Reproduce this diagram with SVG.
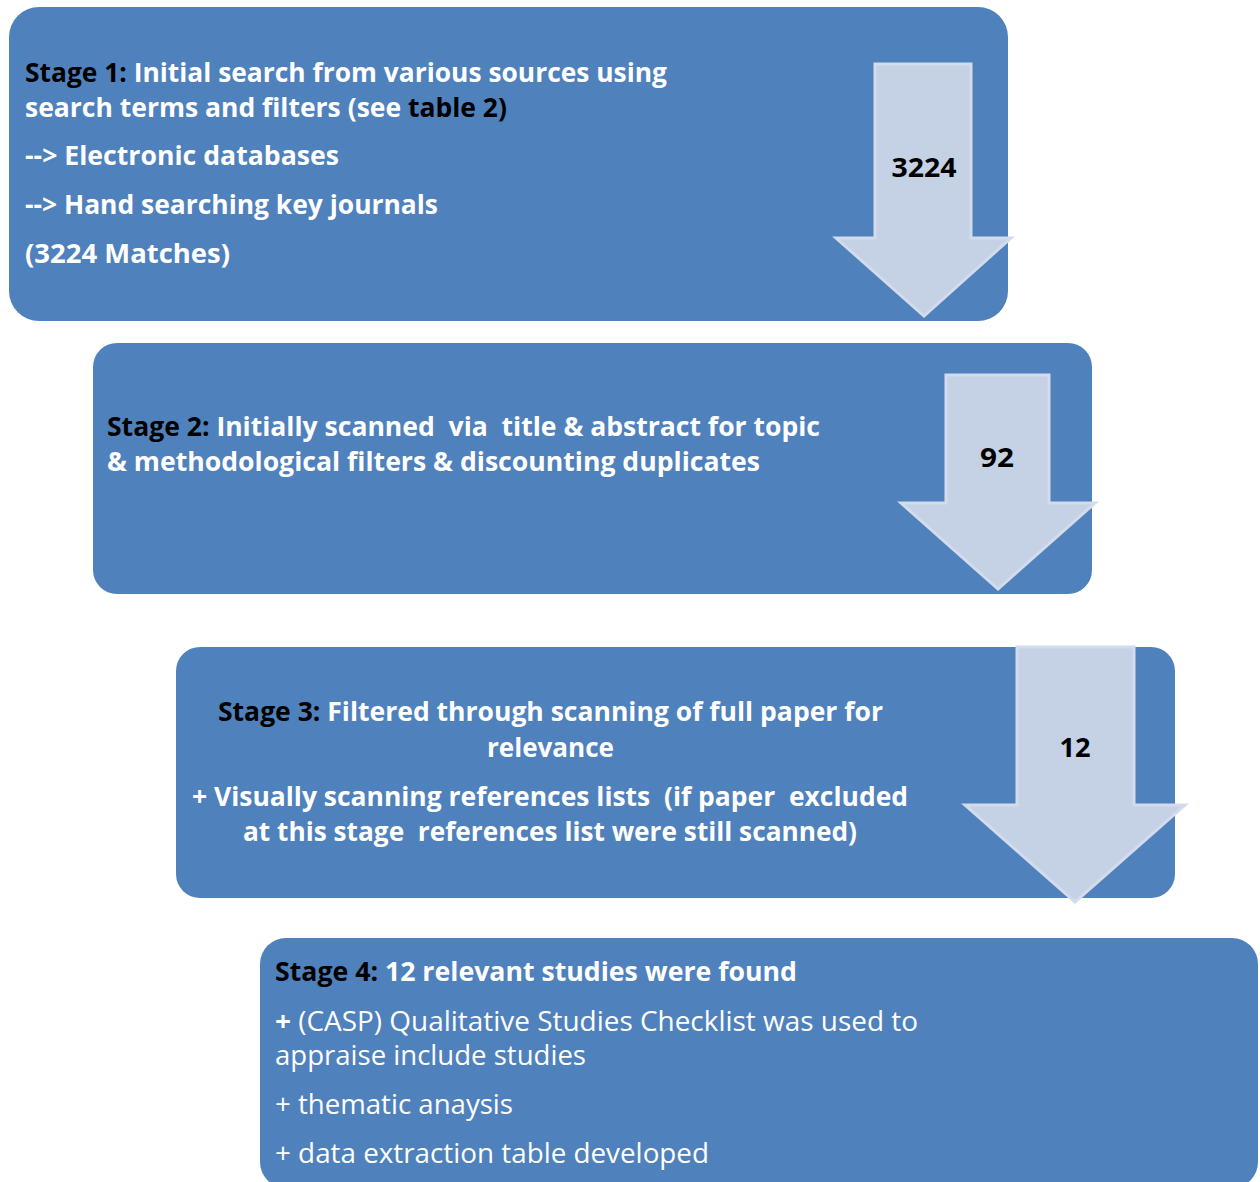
<svg xmlns="http://www.w3.org/2000/svg" width="1260" height="1182" viewBox="0 0 1260 1182">
<style>
.box{fill:#4F81BD;}
.arrow{fill:#C5D1E4;stroke:#D3DCEC;stroke-width:3;stroke-linejoin:miter;}
text{font-family:"Open Sans","Liberation Sans",sans-serif;font-size:27px;white-space:pre;}
.b{font-weight:bold;fill:#FFFFFF;}
.r{font-weight:normal;fill:#FFFFFF;}
.k{fill:#000000;}
.num{font-weight:bold;fill:#000000;text-anchor:middle;}
</style>
<rect width="1260" height="1182" fill="#FFFFFF"/>
<g id="stage1">
<rect class="box" x="9" y="7" width="999" height="314" rx="30"/>
<text class="b" x="25" y="82" textLength="642" lengthAdjust="spacingAndGlyphs"><tspan class="k">Stage 1:</tspan> Initial search from various sources using</text>
<text class="b" x="25" y="117" textLength="482" lengthAdjust="spacingAndGlyphs">search terms and filters (see <tspan class="k">table 2)</tspan></text>
<text class="b" x="25" y="165" textLength="314" lengthAdjust="spacingAndGlyphs">--&gt; Electronic databases</text>
<text class="b" x="25" y="214" textLength="413" lengthAdjust="spacingAndGlyphs">--&gt; Hand searching key journals</text>
<text class="b" x="25" y="263" textLength="205" lengthAdjust="spacingAndGlyphs">(3224 Matches)</text>
</g>
<g id="stage2">
<rect class="box" x="93" y="343" width="999" height="251" rx="24"/>
<text class="b" x="107" y="436" textLength="713" lengthAdjust="spacingAndGlyphs"><tspan class="k">Stage 2:</tspan> Initially scanned  via  title &amp; abstract for topic</text>
<text class="b" x="107" y="471" textLength="653" lengthAdjust="spacingAndGlyphs">&amp; methodological filters &amp; discounting duplicates</text>
</g>
<g id="stage3">
<rect class="box" x="176" y="647" width="999" height="251" rx="24"/>
<text class="b" x="218" y="721" textLength="665" lengthAdjust="spacingAndGlyphs"><tspan class="k">Stage 3:</tspan> Filtered through scanning of full paper for</text>
<text class="b" x="487" y="757" textLength="127" lengthAdjust="spacingAndGlyphs">relevance</text>
<text class="b" x="192" y="806" textLength="716" lengthAdjust="spacingAndGlyphs">+ Visually scanning references lists  (if paper  excluded</text>
<text class="b" x="243" y="841" textLength="614" lengthAdjust="spacingAndGlyphs">at this stage  references list were still scanned)</text>
</g>
<g id="stage4">
<rect class="box" x="260" y="938" width="998" height="250" rx="26"/>
<text class="b" x="275" y="981" textLength="522" lengthAdjust="spacingAndGlyphs"><tspan class="k">Stage 4:</tspan> 12 relevant studies were found</text>
<text class="r" x="275" y="1031" textLength="643" lengthAdjust="spacingAndGlyphs"><tspan font-weight="bold">+</tspan> (CASP) Qualitative Studies Checklist was used to</text>
<text class="r" x="275" y="1065" textLength="311" lengthAdjust="spacingAndGlyphs">appraise include studies</text>
<text class="r" x="275" y="1114" textLength="238" lengthAdjust="spacingAndGlyphs">+ thematic anaysis</text>
<text class="r" x="275" y="1163" textLength="434" lengthAdjust="spacingAndGlyphs">+ data extraction table developed</text>
</g>
<g id="connectors">
<g id="arrow1">
<polygon class="arrow" points="875,64 971,64 971,238 1011,238 924,316 836,238 875,238"/>
<text class="num" x="924" y="177" textLength="65" lengthAdjust="spacingAndGlyphs">3224</text>
</g>
<g id="arrow2">
<polygon class="arrow" points="946,375 1049,375 1049,503 1095,503 998,589 901,503 946,503"/>
<text class="num" x="997" y="467" textLength="34" lengthAdjust="spacingAndGlyphs">92</text>
</g>
<g id="arrow3">
<polygon class="arrow" points="1017,647 1134,647 1134,805 1185,805 1075,902 965,805 1017,805"/>
<text class="num" x="1075" y="757" textLength="31" lengthAdjust="spacingAndGlyphs">12</text>
</g>
</g>
</svg>
